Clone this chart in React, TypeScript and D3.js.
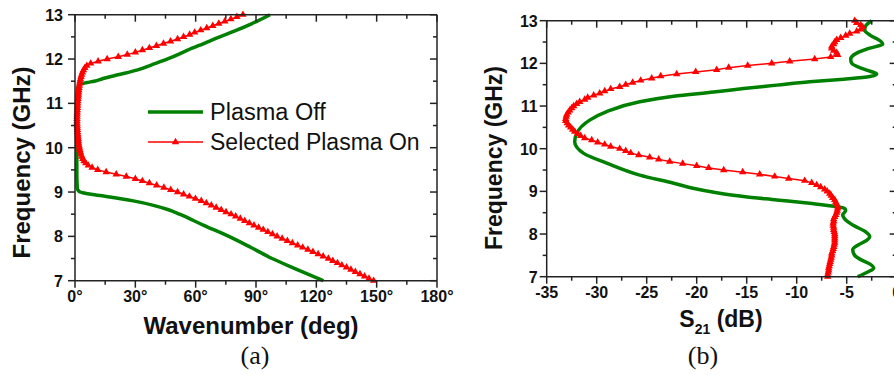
import React from 'react';
import * as d3 from 'd3';

// ---------- data ----------
const FREQ_TICKS = [7, 8, 9, 10, 11, 12, 13];
const FREQ_MINOR = [7.5, 8.5, 9.5, 10.5, 11.5, 12.5];
const WAVE_TICKS = [0, 30, 60, 90, 120, 150, 180];
const WAVE_MINOR = [15, 45, 75, 105, 135, 165];
const S21_TICKS = [-35, -30, -25, -20, -15, -10, -5, 0];
const S21_MINOR = [-32.5, -27.5, -22.5, -17.5, -12.5, -7.5, -2.5];

// (a) Plasma Off dispersion
const offFreqA = [7.0, 7.25, 7.5, 7.75, 8.0, 8.25, 8.5, 8.6, 8.7, 8.8, 8.9, 8.95, 8.98, 9.0, 9.05, 9.1, 9.5, 10.0, 10.5, 11.0, 11.35, 11.43, 11.47, 11.5, 11.56, 11.65, 11.75, 11.9, 12.02, 12.2, 12.35, 12.5, 12.65, 12.8, 13.0];
const offWaveA = [123.5, 110.5, 98, 87.5, 76.5, 64, 52, 46.5, 39, 29, 15.5, 8, 4.5, 2.5, 1.4, 1.1, 0.9, 0.9, 0.9, 1.0, 1.3, 2.5, 6, 9.5, 14, 22, 30.7, 40, 47, 56, 64, 72, 80.4, 88, 97];

// frequency sweep of the "Selected Plasma On" data (7 → 13 GHz, 0.05 GHz step)
const ON_START = 7;
const ON_STEP = 0.05;

// (a) Selected Plasma On dispersion (deg)
const onWaveA = [
  148.5, 146.2, 144.0, 141.7, 139.4, 137.2, 135.0, 132.7, 130.5, 128.2,
  126.0, 123.4, 120.9, 118.3, 115.8, 113.2, 110.7, 108.1, 105.6, 103.0,
  100.5, 98.2, 95.9, 93.6, 91.3, 89.0, 86.7, 84.4, 82.2, 79.9,
  77.6, 75.1, 72.7, 70.2, 67.8, 65.3, 62.8, 59.9, 56.9, 54.0,
  51.0, 47.6, 44.2, 40.6, 37.0, 33.5, 30.0, 25.5, 20.5, 15.5,
  11.3, 8.5, 6.6, 5.4, 4.5, 3.9, 3.4, 3.0, 2.7, 2.4,
  2.2, 2.0, 1.85, 1.7, 1.6, 1.5, 1.4, 1.3, 1.2, 1.15,
  1.1, 1.05, 1.0, 1.0, 1.0, 1.05, 1.1, 1.15, 1.2, 1.25,
  1.3, 1.4, 1.5, 1.6, 1.7, 1.8, 1.9, 2.0, 2.15, 2.3,
  2.5, 2.7, 3.0, 3.3, 3.7, 4.2, 4.9, 5.9, 7.8, 11.5,
  16.0, 21.5, 26.0, 30.0, 33.5, 37.0, 40.5, 44.0, 47.5, 51.0,
  54.0, 57.0, 59.5, 62.5, 65.5, 68.5, 71.5, 74.5, 77.5, 80.5,
  83.5,
];

// (b) Plasma Off S21
const offFreqB = [7.0, 7.1, 7.2, 7.3, 7.4, 7.5, 7.63, 7.75, 7.85, 7.94, 8.05, 8.2, 8.33, 8.45, 8.55, 8.6, 8.65, 8.72, 8.8, 8.88, 8.97, 9.08, 9.19, 9.38, 9.66, 9.89, 10.16, 10.36, 10.67, 10.87, 11.1, 11.23, 11.33, 11.41, 11.49, 11.57, 11.63, 11.69, 11.75, 11.84, 12.0, 12.1, 12.24, 12.35, 12.45, 12.55, 12.65, 12.78, 12.88, 13.0];
const offS21B = [-3.9, -3.0, -2.3, -2.7, -3.6, -4.2, -4.4, -3.8, -3.0, -2.7, -3.1, -4.3, -5.1, -5.4, -5.1, -5.2, -6.2, -8.7, -12, -15.3, -18, -20.5, -22.3, -25.7, -29, -31.3, -32.2, -32, -30.7, -29, -25.7, -22.3, -18.3, -15.3, -12, -8.7, -5.3, -2.7, -2.0, -3.0, -4.5, -4.6, -4.0, -2.8, -1.4, -1.8, -2.6, -3.2, -3.1, -2.5];

// (b) Selected Plasma On S21 (dB)
const onS21B = [
  -6.9, -6.9, -6.85, -6.8, -6.8, -6.75, -6.7, -6.65, -6.6, -6.55,
  -6.5, -6.5, -6.4, -6.35, -6.3, -6.25, -6.2, -6.2, -6.2, -6.2,
  -6.2, -6.25, -6.3, -6.3, -6.35, -6.35, -6.3, -6.3, -6.2, -6.1,
  -6.0, -5.95, -5.9, -5.9, -6.0, -6.1, -6.2, -6.4, -6.55, -6.7,
  -6.95, -7.2, -7.6, -8.0, -8.5, -9.2, -10.8, -12.2, -13.7, -15.4,
  -17.3, -18.8, -20.0, -21.4, -22.7, -23.8, -24.7, -25.8, -26.6, -27.1,
  -27.7, -28.6, -29.2, -29.9, -30.5, -31.2, -31.6, -31.9, -32.2, -32.4,
  -32.6, -32.8, -32.95, -33.1, -33.1, -33.05, -33.0, -32.85, -32.7, -32.5,
  -32.3, -32.0, -31.7, -31.2, -30.9, -30.3, -29.7, -29.2, -28.6, -27.7,
  -27.1, -26.4, -25.6, -24.5, -23.6, -22.0, -20.1, -18.0, -16.8, -14.9,
  -12.5, -10.7, -8.2, -6.6, -5.9, -6.0, -6.3, -6.5, -6.5, -6.3,
  -6.2, -6.0, -5.6, -5.1, -4.7, -4.0, -3.6, -3.4, -3.6, -4.0,
  -4.2,
];

const onFreq = onWaveA.map((_, i) => ON_START + i * ON_STEP);

// ---------- style ----------
const W = 894;
const H = 375;
const GREEN = '#008000';
const RED = '#ff0000';
const AXIS = '#222';
const SANS = '"Liberation Sans", Arial, Helvetica, sans-serif';
const SERIF = '"Liberation Serif", "Times New Roman", serif';

type Pt = [number, number];

function Frame(props: {
  xs: d3.ScaleLinear<number, number>;
  ys: d3.ScaleLinear<number, number>;
  xTicks: number[];
  xMinor: number[];
  yTicks: number[];
  yMinor: number[];
  xFmt: (v: number) => string;
  yGap: number;
}) {
  const { xs, ys, xTicks, xMinor, yTicks, yMinor, xFmt, yGap } = props;
  const [x0, x1] = xs.range();
  const [y0, y1] = ys.range(); // y0 bottom, y1 top
  const M = 7;
  const m = 4;
  const sw = 1.5;
  return (
    <g>
      <line x1={x0} x2={x1} y1={y0} y2={y0} stroke={AXIS} strokeWidth={sw} />
      <line x1={x0} x2={x1} y1={y1} y2={y1} stroke={AXIS} strokeWidth={sw} />
      <line x1={x0} x2={x0} y1={y0} y2={y1} stroke={AXIS} strokeWidth={sw} />
      <line x1={x1} x2={x1} y1={y0} y2={y1} stroke={AXIS} strokeWidth={sw} />
      {xTicks.map((v) => (
        <g key={'xt' + v}>
          <line x1={xs(v)} x2={xs(v)} y1={y0} y2={y0 + M} stroke={AXIS} strokeWidth={sw} />
          <line x1={xs(v)} x2={xs(v)} y1={y1} y2={y1 + M} stroke={AXIS} strokeWidth={sw} />
          <text x={xs(v)} y={y0 + 21} textAnchor="middle" fontFamily={SANS} fontWeight="bold" fontSize={16} fill="#111">
            {xFmt(v)}
          </text>
        </g>
      ))}
      {xMinor.map((v) => (
        <g key={'xm' + v}>
          <line x1={xs(v)} x2={xs(v)} y1={y0} y2={y0 + m} stroke={AXIS} strokeWidth={sw} />
          <line x1={xs(v)} x2={xs(v)} y1={y1} y2={y1 + m} stroke={AXIS} strokeWidth={sw} />
        </g>
      ))}
      {yTicks.map((v) => (
        <g key={'yt' + v}>
          <line x1={x0 - M} x2={x0} y1={ys(v)} y2={ys(v)} stroke={AXIS} strokeWidth={sw} />
          <line x1={x1 - M} x2={x1} y1={ys(v)} y2={ys(v)} stroke={AXIS} strokeWidth={sw} />
          <text x={x0 - yGap} y={ys(v) + 6} textAnchor="end" fontFamily={SANS} fontWeight="bold" fontSize={16} fill="#111">
            {v}
          </text>
        </g>
      ))}
      {yMinor.map((v) => (
        <g key={'ym' + v}>
          <line x1={x0 - m} x2={x0} y1={ys(v)} y2={ys(v)} stroke={AXIS} strokeWidth={sw} />
          <line x1={x1 - m} x2={x1} y1={ys(v)} y2={ys(v)} stroke={AXIS} strokeWidth={sw} />
        </g>
      ))}
    </g>
  );
}

const tri = d3.symbol().type(d3.symbolTriangle).size(24);

export default function App() {
  const xa = d3.scaleLinear().domain([0, 180]).range([75, 437]);
  const ya = d3.scaleLinear().domain([7, 13]).range([280.7, 14.7]);
  const xb = d3.scaleLinear().domain([-35, 0]).range([546.7, 896.7]);
  const yb = d3.scaleLinear().domain([7, 13]).range([276.7, 20.7]);

  const offA: Pt[] = offFreqA.map((f, i) => [offWaveA[i], f]);
  const onA: Pt[] = onFreq.map((f, i) => [onWaveA[i], f]);
  const offB: Pt[] = offFreqB.map((f, i) => [offS21B[i], f]);
  const onB: Pt[] = onFreq.map((f, i) => [onS21B[i], f]);

  const smoothA = d3.line<Pt>().x((d) => xa(d[0])).y((d) => ya(d[1])).curve(d3.curveMonotoneY);
  const straightA = d3.line<Pt>().x((d) => xa(d[0])).y((d) => ya(d[1]));
  const smoothB = d3.line<Pt>().x((d) => xb(d[0])).y((d) => yb(d[1])).curve(d3.curveMonotoneY);
  const straightB = d3.line<Pt>().x((d) => xb(d[0])).y((d) => yb(d[1]));

  return (
    <svg width={W} height={H} style={{ position: 'absolute', left: 0, top: 0, background: '#fff' }}>
      <rect width={W} height={H} fill="#fff" />

      {/* ===== panel (a) ===== */}
      <path d={smoothA(offA) || ''} fill="none" stroke={GREEN} strokeWidth={3.5} />
      <path d={straightA(onA) || ''} fill="none" stroke={RED} strokeWidth={1.5} />
      {onA.map((d, i) => (
        <path key={'ta' + i} d={tri() || ''} transform={`translate(${xa(d[0])},${ya(d[1])})`} fill={RED} />
      ))}
      <Frame xs={xa} ys={ya} xTicks={WAVE_TICKS} xMinor={WAVE_MINOR} yTicks={FREQ_TICKS} yMinor={FREQ_MINOR} xFmt={(v) => `${v}°`} yGap={12} />

      <line x1={148} x2={203} y1={112} y2={112} stroke={GREEN} strokeWidth={3.5} />
      <text x={210} y={120} fontFamily={SANS} fontSize={23.5} fill="#111">Plasma Off</text>
      <line x1={148} x2={203} y1={142} y2={142} stroke={RED} strokeWidth={1.5} />
      <path d={tri() || ''} transform="translate(175.5,142)" fill={RED} />
      <text x={210} y={150} fontFamily={SANS} fontSize={23} fill="#111">Selected Plasma On</text>

      <text transform="translate(30,162.5) rotate(-90)" textAnchor="middle" fontFamily={SANS} fontWeight="bold" fontSize={24} fill="#111">
        Frequency (GHz)
      </text>
      <text x={251} y={334} textAnchor="middle" fontFamily={SANS} fontWeight="bold" fontSize={24} fill="#111">
        Wavenumber (deg)
      </text>
      <text x={255} y={364} textAnchor="middle" fontFamily={SERIF} fontSize={26} fill="#111">(a)</text>

      {/* ===== panel (b) ===== */}
      <path d={smoothB(offB) || ''} fill="none" stroke={GREEN} strokeWidth={3.5} />
      <path d={straightB(onB) || ''} fill="none" stroke={RED} strokeWidth={1.5} />
      {onB.map((d, i) => (
        <path key={'tb' + i} d={tri() || ''} transform={`translate(${xb(d[0])},${yb(d[1])})`} fill={RED} />
      ))}
      <Frame xs={xb} ys={yb} xTicks={S21_TICKS} xMinor={S21_MINOR} yTicks={FREQ_TICKS} yMinor={FREQ_MINOR} xFmt={(v) => `${v}`} yGap={9} />

      <text transform="translate(501.5,158) rotate(-90)" textAnchor="middle" fontFamily={SANS} fontWeight="bold" fontSize={23} fill="#111">
        Frequency (GHz)
      </text>
      <text x={721} y={327} textAnchor="middle" fontFamily={SANS} fontWeight="bold" fontSize={23} fill="#111">
        S<tspan fontSize={14} dy={7}>21</tspan>
        <tspan dy={-7}> (dB)</tspan>
      </text>
      <text x={703} y={364} textAnchor="middle" fontFamily={SERIF} fontSize={26} fill="#111">(b)</text>
    </svg>
  );
}
